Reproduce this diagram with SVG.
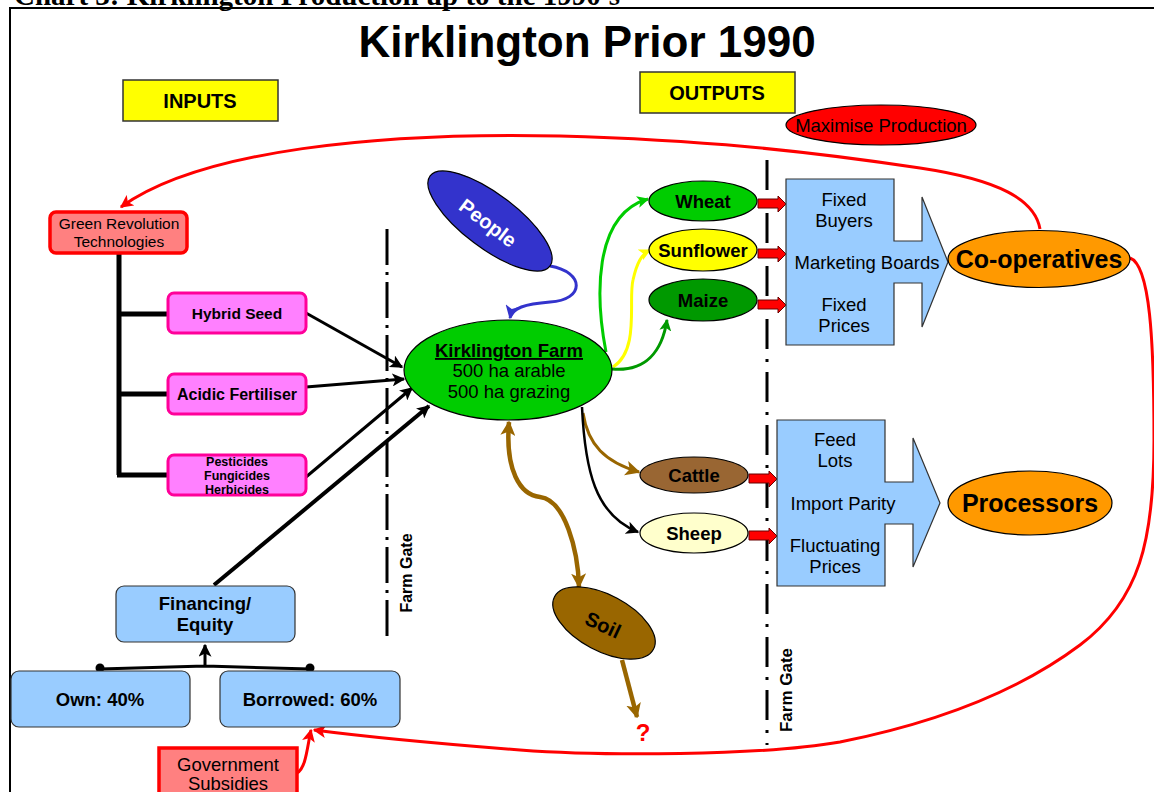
<svg xmlns="http://www.w3.org/2000/svg" width="1154" height="792" viewBox="0 0 1154 792">
<style>
text{font-family:"Liberation Sans",Arial,sans-serif;fill:#000}
.b{font-weight:bold}
.t18{font-size:18.5px}
.c{text-anchor:middle}
.tag{fill:#ffff00;stroke:#333;stroke-width:1.5}
.pink{fill:#ff80ff;stroke:#ff0099;stroke-width:3}
.redbox{fill:#ff8080;stroke:#ff0000;stroke-width:3.5}
.blue{fill:#99ccff;stroke:#333;stroke-width:1.2}
.ell{stroke:#000;stroke-width:1.2}
.gate{stroke:#000;stroke-width:3;fill:none}
.blk{fill:#ff0000;stroke:#660000;stroke-width:1}
.con{fill:none}
</style>
<defs>
<marker id="ak" viewBox="0 0 10 10" refX="9" refY="5" markerWidth="13" markerHeight="13" markerUnits="userSpaceOnUse" orient="auto-start-reverse"><path d="M0,0 L10,5 L0,10 L2.5,5 z" fill="#000"/></marker>
<marker id="ab" viewBox="0 0 10 10" refX="9" refY="5" markerWidth="14" markerHeight="14" markerUnits="userSpaceOnUse" orient="auto-start-reverse"><path d="M0,0 L10,5 L0,10 L2.5,5 z" fill="#3333cc"/></marker>
<marker id="ag" viewBox="0 0 10 10" refX="9" refY="5" markerWidth="12" markerHeight="12" markerUnits="userSpaceOnUse" orient="auto-start-reverse"><path d="M0,0 L10,5 L0,10 L2.5,5 z" fill="#00cc00"/></marker>
<marker id="ay" viewBox="0 0 10 10" refX="9" refY="5" markerWidth="12" markerHeight="12" markerUnits="userSpaceOnUse" orient="auto-start-reverse"><path d="M0,0 L10,5 L0,10 L2.5,5 z" fill="#ffff00"/></marker>
<marker id="adg" viewBox="0 0 10 10" refX="9" refY="5" markerWidth="12" markerHeight="12" markerUnits="userSpaceOnUse" orient="auto-start-reverse"><path d="M0,0 L10,5 L0,10 L2.5,5 z" fill="#009900"/></marker>
<marker id="abr" viewBox="0 0 10 10" refX="9" refY="5" markerWidth="15" markerHeight="15" markerUnits="userSpaceOnUse" orient="auto-start-reverse"><path d="M0,0 L10,5 L0,10 L2.5,5 z" fill="#996600"/></marker>
<marker id="ar" viewBox="0 0 10 10" refX="9" refY="5" markerWidth="13" markerHeight="13" markerUnits="userSpaceOnUse" orient="auto-start-reverse"><path d="M0,0 L10,5 L0,10 L2.5,5 z" fill="#ff0000"/></marker>
</defs>
<rect width="1154" height="792" fill="#fff"/>
<text x="14" y="5" style="font-family:'Liberation Serif','Times New Roman',serif;font-size:29px;font-weight:bold">Chart 3: Kirklington Production up to the 1990's</text>
<rect x="10" y="8" width="1170" height="800" fill="none" stroke="#000" stroke-width="2"/>
<text x="587" y="57" class="b c" style="font-size:44px">Kirklington Prior 1990</text>

<g id="inputs"><rect x="123" y="80" width="155" height="41" class="tag"/><text x="200" y="108" class="b c" style="font-size:20px">INPUTS</text></g>
<g id="outputs"><rect x="640" y="72" width="155" height="41" class="tag"/><text x="717" y="100" class="b c" style="font-size:20px">OUTPUTS</text></g>
<g id="maximise"><ellipse cx="881" cy="125" rx="95" ry="20" fill="#ff0000" class="ell"/><text x="881" y="131.5" class="c t18">Maximise Production</text></g>

<g id="gates">
<line x1="387" y1="229" x2="387" y2="636" class="gate" stroke-dasharray="36 7 3 7"/>
<text transform="translate(412,573) rotate(-90)" class="b c" style="font-size:16px">Farm Gate</text>
<line x1="767" y1="160" x2="767" y2="745" class="gate" stroke-dasharray="30 10 3 10"/>
<text transform="translate(792,690) rotate(-90)" class="b c" style="font-size:17px">Farm Gate</text>
</g>

<g id="connectors">
<path d="M1040,229 C1035,200 1000,180 920,168 C800,150 700,140 560,136 C380,132 200,150 121,207" class="con" stroke="#ff0000" stroke-width="3" marker-end="url(#ar)"/>
<path d="M1130,258 C1150,265 1154,340 1154,440 C1154,540 1140,600 1080,645 C1020,690 940,722 840,742 C760,756 600,756 520,750 C430,743 360,736 314,730" class="con" stroke="#ff0000" stroke-width="3" marker-end="url(#ar)"/>
<path d="M297,773 C306,768 307,748 311,730" class="con" stroke="#ff0000" stroke-width="3" marker-end="url(#ar)"/>
<path d="M119,253 L119,475 M117,314 L168,314 M117,394 L168,394 M117,475 L168,475" class="con" stroke="#000" stroke-width="5"/>
<line x1="306" y1="313" x2="402" y2="367" stroke="#000" stroke-width="3" marker-end="url(#ak)"/>
<line x1="306" y1="387" x2="404" y2="379" stroke="#000" stroke-width="3" marker-end="url(#ak)"/>
<line x1="306" y1="477" x2="412" y2="388" stroke="#000" stroke-width="3" marker-end="url(#ak)"/>
<line x1="214" y1="585" x2="429" y2="406" stroke="#000" stroke-width="4" marker-end="url(#ak)"/>
<path d="M550,266 C585,272 585,300 550,302 C525,304 512,308 510,318" class="con" stroke="#3333cc" stroke-width="3" marker-end="url(#ab)"/>
<path d="M606,352 C596,300 592,215 648,199" class="con" stroke="#00cc00" stroke-width="3" marker-end="url(#ag)"/>
<path d="M613,367 C640,350 628,300 633,280 C637,262 642,254 650,250" class="con" stroke="#ffff00" stroke-width="3" marker-end="url(#ay)"/>
<path d="M612,369 C645,372 662,352 667,320" class="con" stroke="#009900" stroke-width="3" marker-end="url(#adg)"/>
<path d="M583,413 C588,445 605,462 639,472" class="con" stroke="#996600" stroke-width="3" marker-end="url(#abr)"/>
<path d="M582,407 C585,470 595,515 638,532" class="con" stroke="#000" stroke-width="2.5" marker-end="url(#ak)"/>
<path d="M509,422 C505,470 520,495 540,497 C565,500 578,550 579,587" class="con" stroke="#996600" stroke-width="4.5" marker-start="url(#abr)" marker-end="url(#abr)"/>
<line x1="622" y1="660" x2="637" y2="717" stroke="#996600" stroke-width="4.5" marker-end="url(#abr)"/>
<path d="M100,669 L205,666 L310,669 M205,666 L205,645" class="con" stroke="#000" stroke-width="3" marker-end="url(#ak)"/>
<circle cx="100" cy="668" r="4.5" fill="#000"/><circle cx="310" cy="668" r="4.5" fill="#000"/>
<polygon points="758,199 778,199 778,196 786,204 778,212 778,208 758,208" class="blk"/>
<polygon points="758,249 778,249 778,246 786,254 778,262 778,258 758,258" class="blk"/>
<polygon points="758,300 778,300 778,297 786,305 778,313 778,309 758,309" class="blk"/>
<polygon points="749,474 769,474 769,471 777,479 769,487 769,483 749,483" class="blk"/>
<polygon points="749,531 769,531 769,528 777,536 769,544 769,540 749,540" class="blk"/>
</g>

<g id="green-revolution"><rect x="50" y="212" width="137" height="41" rx="6" class="redbox"/><text x="119" y="229" class="c" style="font-size:15.5px">Green Revolution</text><text x="119" y="247" class="c" style="font-size:15.5px">Technologies</text></g>
<g id="hybrid-seed"><rect x="168" y="293" width="138" height="40" rx="6" class="pink"/><text x="237" y="319" class="b c" style="font-size:15.5px">Hybrid Seed</text></g>
<g id="acidic-fertiliser"><rect x="168" y="374" width="138" height="40" rx="6" class="pink"/><text x="237" y="400" class="b c" style="font-size:16px">Acidic Fertiliser</text></g>
<g id="pesticides"><rect x="168" y="455" width="138" height="40" rx="6" class="pink"/><text x="237" y="466" class="b c" style="font-size:12.5px">Pesticides</text><text x="237" y="480" class="b c" style="font-size:12.5px">Fungicides</text><text x="237" y="494" class="b c" style="font-size:12.5px">Herbicides</text></g>

<g id="people"><ellipse cx="0" cy="0" rx="75" ry="27" fill="#3333cc" class="ell" transform="translate(490,221) rotate(37)"/><text transform="translate(488,223) rotate(37)" y="7" class="b c" style="font-size:20px;fill:#fff">People</text></g>
<g id="farm"><ellipse cx="508" cy="370" rx="104" ry="50" fill="#00cc00" class="ell"/><text x="509" y="357" class="b c t18" text-decoration="underline">Kirklington Farm</text><text x="509" y="377" class="c t18">500 ha arable</text><text x="509" y="398" class="c t18">500 ha grazing</text></g>
<g id="wheat"><ellipse cx="703" cy="201" rx="54" ry="20" fill="#00cc00" class="ell"/><text x="703" y="207.5" class="b c t18">Wheat</text></g>
<g id="sunflower"><ellipse cx="703" cy="250" rx="54" ry="21" fill="#ffff00" class="ell"/><text x="703" y="256.5" class="b c t18">Sunflower</text></g>
<g id="maize"><ellipse cx="703" cy="300" rx="54" ry="21" fill="#009900" class="ell"/><text x="703" y="306.5" class="b c t18">Maize</text></g>
<g id="cattle"><ellipse cx="694" cy="475" rx="54" ry="18" fill="#996633" class="ell"/><text x="694" y="481.5" class="b c t18">Cattle</text></g>
<g id="sheep"><ellipse cx="694" cy="533" rx="54" ry="20" fill="#ffffcc" class="ell"/><text x="694" y="539.5" class="b c t18">Sheep</text></g>
<g id="soil"><ellipse cx="0" cy="0" rx="56" ry="28" fill="#996600" class="ell" transform="translate(604,623) rotate(28)"/><text transform="translate(603,625) rotate(25)" y="7" class="b c" style="font-size:20px">Soil</text></g>
<text x="643" y="741" class="b c" style="font-size:24px;fill:#ff0000">?</text>

<g id="marketing"><polygon points="786,179 894,179 894,241 922,241 922,197 948,262 922,327 922,283 894,283 894,345 786,345" class="blue"/>
<text x="844" y="206" class="c t18">Fixed</text><text x="844" y="227" class="c t18">Buyers</text><text x="867" y="269" class="c t18">Marketing Boards</text><text x="844" y="311" class="c t18">Fixed</text><text x="844" y="332" class="c t18">Prices</text></g>
<g id="cooperatives"><ellipse cx="1039" cy="259" rx="91" ry="28.5" fill="#ff9900" class="ell"/><text x="1039" y="268" class="b c" style="font-size:25px">Co-operatives</text></g>
<g id="feedlots"><polygon points="777,420 885,420 885,482 913,482 913,438 940,503 913,567 913,524 885,524 885,586 777,586" class="blue"/>
<text x="835" y="446" class="c t18">Feed</text><text x="835" y="467" class="c t18">Lots</text><text x="843" y="510" class="c t18">Import Parity</text><text x="835" y="552" class="c t18">Fluctuating</text><text x="835" y="573" class="c t18">Prices</text></g>
<g id="processors"><ellipse cx="1030" cy="503" rx="82" ry="32" fill="#ff9900" class="ell"/><text x="1030" y="512" class="b c" style="font-size:25px">Processors</text></g>

<g id="financing"><rect x="116" y="586" width="179" height="56" rx="8" class="blue"/><text x="205" y="610" class="b c t18">Financing/</text><text x="205" y="631" class="b c t18">Equity</text></g>
<g id="own"><rect x="11" y="671" width="179" height="56" rx="8" class="blue"/><text x="100" y="706" class="b c t18">Own: 40%</text></g>
<g id="borrowed"><rect x="220" y="671" width="180" height="56" rx="8" class="blue"/><text x="310" y="706" class="b c t18">Borrowed: 60%</text></g>
<g id="subsidies"><rect x="159" y="748" width="138" height="60" class="redbox" stroke-width="4"/><text x="228" y="771" class="c t18">Government</text><text x="228" y="790" class="c t18">Subsidies</text></g>
</svg>
